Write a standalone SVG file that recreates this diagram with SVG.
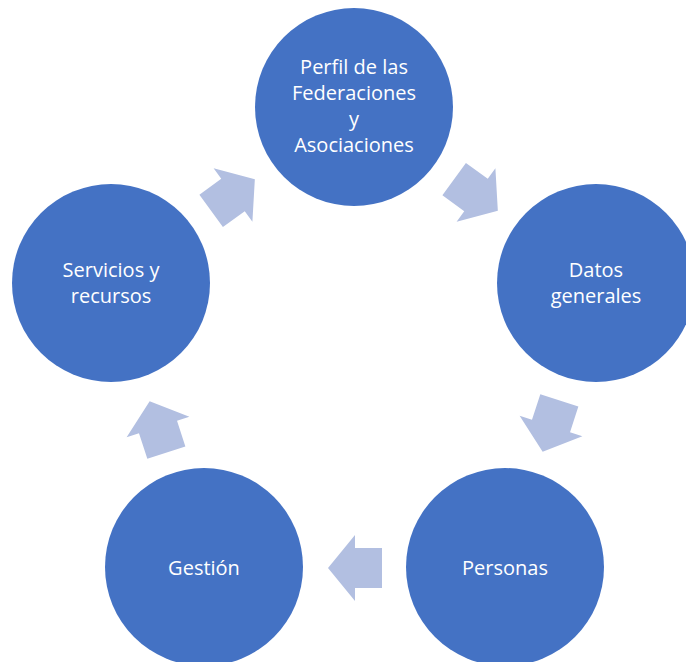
<svg xmlns="http://www.w3.org/2000/svg" width="686" height="662" viewBox="0 0 686 662">
<style>
.node{fill:#4472C4}
.lbl{fill:#FFFFFF;font-family:"Open Sans","Liberation Sans",sans-serif;font-size:20px;text-anchor:middle}
.arr{fill:#B2BFE1}
</style>
<defs>
<polygon id="arrow" points="-27,-20 0,-20 0,-33 27,0 0,33 0,20 -27,20"/>
</defs>
<rect width="686" height="662" fill="#FFFFFF"/>
<g id="connectors">
<use href="#arrow" class="arr" transform="translate(476,195) rotate(36)"/>
<use href="#arrow" class="arr" transform="translate(551,426) rotate(108)"/>
<use href="#arrow" class="arr" transform="translate(355,568) rotate(180)"/>
<use href="#arrow" class="arr" transform="translate(158,427) rotate(252)"/>
<use href="#arrow" class="arr" transform="translate(233,195) rotate(-36)"/>
</g>
<g id="perfil">
<circle class="node" cx="354" cy="107" r="99"/>
<text class="lbl" x="354" y="74">Perfil de las</text>
<text class="lbl" x="354" y="100">Federaciones</text>
<text class="lbl" x="354" y="126">y</text>
<text class="lbl" x="354" y="152">Asociaciones</text>
</g>
<g id="datos">
<circle class="node" cx="596" cy="283" r="99"/>
<text class="lbl" x="596" y="277">Datos</text>
<text class="lbl" x="596" y="303">generales</text>
</g>
<g id="personas">
<circle class="node" cx="505" cy="567" r="99"/>
<text class="lbl" x="505" y="575">Personas</text>
</g>
<g id="gestion">
<circle class="node" cx="204" cy="567" r="99"/>
<text class="lbl" x="204" y="575">Gestión</text>
</g>
<g id="servicios">
<circle class="node" cx="111" cy="283" r="99"/>
<text class="lbl" x="111" y="277">Servicios y</text>
<text class="lbl" x="111" y="303">recursos</text>
</g>
</svg>
